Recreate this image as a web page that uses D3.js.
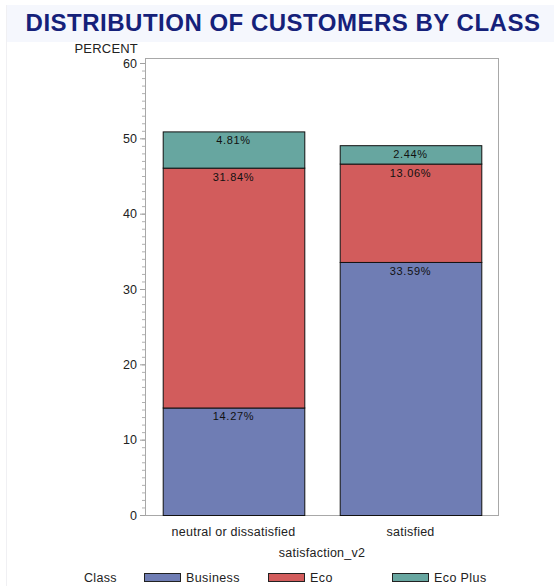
<!DOCTYPE html>
<html>
<head>
<meta charset="utf-8">
<script src="https://cdn.jsdelivr.net/npm/d3@7"></script>
<style>
  body { margin: 0; background: #fff; }
  svg { display: block; font-family: "Liberation Sans", Arial, sans-serif; }
</style>
</head>
<body>
<svg></svg>
<script>
// chart data
var groups = ["neutral or dissatisfied", "satisfied"];
var classes = ["Business", "Eco", "Eco Plus"];
var business = [14.27, 33.59];
var eco = [31.84, 13.06];
var ecoPlus = [4.81, 2.44];
var yTicks = [0, 10, 20, 30, 40, 50, 60];
var colors = ["#6f7db4", "#d25c5c", "#67a6a0"];

var screen = { width: 554, height: 586 };
var margins = { top: 58, bottom: 71, left: 145, right: 55 };
var boxWidth = screen.width - margins.left - margins.right;
var boxHeight = screen.height - margins.top - margins.bottom;

var svg = d3.select("svg")
  .attr("width", screen.width)
  .attr("height", screen.height);

// header band + faint page edge
svg.append("rect")
  .attr("x", 6).attr("y", 5)
  .attr("width", screen.width - 6).attr("height", 37)
  .attr("fill", "#f5f7fd");
svg.append("line")
  .attr("x1", 6.5).attr("x2", 6.5).attr("y1", 5).attr("y2", screen.height)
  .attr("stroke", "#f0f0f3");

svg.append("text")
  .attr("x", 283).attr("y", 31)
  .attr("text-anchor", "middle")
  .attr("font-size", 24)
  .attr("letter-spacing", 0.5)
  .attr("font-weight", "bold")
  .attr("fill", "#15217a")
  .text("DISTRIBUTION OF CUSTOMERS BY CLASS");

var table = groups.map(function(g, i) {
  return { group: g, "Business": business[i], "Eco": eco[i], "Eco Plus": ecoPlus[i] };
});
var stacked = d3.stack().keys(classes)(table);

var xScale = d3.scaleBand()
  .domain(groups)
  .range([0, boxWidth])
  .paddingInner(0.2)
  .paddingOuter(0.1);

var yScale = d3.scaleLinear()
  .domain([0, 60])
  .range([boxHeight - 0, 5]);

var plot = svg.append("g")
  .attr("transform", "translate(" + margins.left + "," + margins.top + ")");

// frame
plot.append("rect")
  .attr("x", 0.5).attr("y", 0.5)
  .attr("width", boxWidth - 1).attr("height", boxHeight)
  .attr("fill", "none")
  .attr("stroke", "#a8a8a8");

// minor ticks
plot.append("g")
  .attr("class", "minor")
  .call(d3.axisLeft(yScale).ticks(60).tickSize(3).tickFormat(""))
  .call(function(g) {
    g.select(".domain").remove();
    g.selectAll("line").attr("stroke", "#b0b0b0");
  });

// major ticks
plot.append("g")
  .call(d3.axisLeft(yScale).tickValues(yTicks).tickSize(5).tickPadding(3))
  .call(function(g) {
    g.select(".domain").attr("stroke", "#a8a8a8");
    g.selectAll("line").attr("stroke", "#a0a0a0");
    g.selectAll("text").attr("font-size", 12.5).attr("fill", "#222")
      .attr("font-family", "Liberation Sans, Arial, sans-serif");
  });

svg.append("text")
  .attr("x", 138).attr("y", 53)
  .attr("text-anchor", "end")
  .attr("font-size", 13)
  .attr("letter-spacing", 0.2)
  .attr("fill", "#222")
  .text("PERCENT");

// bars
var layers = plot.selectAll(".layer")
  .data(stacked)
  .enter()
  .append("g")
  .attr("fill", function(d, i) { return colors[i]; });

layers.selectAll("rect")
  .data(function(d) { return d; })
  .enter()
  .append("rect")
  .attr("x", function(d) { return xScale(d.data.group) + 0.5; })
  .attr("y", function(d) { return yScale(d[1]) + 0.5; })
  .attr("width", xScale.bandwidth())
  .attr("height", function(d) { return yScale(d[0]) - yScale(d[1]); })
  .attr("stroke", "#111")
  .attr("stroke-width", 1);

layers.selectAll("text")
  .data(function(d) { return d; })
  .enter()
  .append("text")
  .attr("x", function(d) { return xScale(d.data.group) + xScale.bandwidth() / 2; })
  .attr("y", function(d) { return yScale(d[1]) + 13; })
  .attr("text-anchor", "middle")
  .attr("font-size", 11)
  .attr("letter-spacing", 0.7)
  .attr("fill", "#111")
  .text(function(d) { return (d[1] - d[0]).toFixed(2) + "%"; });

// x labels
plot.append("g")
  .attr("transform", "translate(0," + boxHeight + ")")
  .call(d3.axisBottom(xScale).tickSize(0).tickPadding(12))
  .call(function(g) {
    g.select(".domain").remove();
    g.selectAll("text").attr("font-size", 12.5).attr("letter-spacing", 0.25)
      .attr("fill", "#222")
      .attr("font-family", "Liberation Sans, Arial, sans-serif");
  });

svg.append("text")
  .attr("x", 322).attr("y", 557)
  .attr("text-anchor", "middle")
  .attr("font-size", 12.5)
  .attr("letter-spacing", 0.25)
  .attr("fill", "#222")
  .text("satisfaction_v2");

// legend
svg.append("text")
  .attr("x", 84).attr("y", 582)
  .attr("font-size", 12.5)
  .attr("letter-spacing", 0.3)
  .attr("fill", "#222")
  .text("Class");

var legendX = [144, 268, 392];
var legend = svg.selectAll(".leg")
  .data(classes)
  .enter()
  .append("g")
  .attr("transform", function(d, i) { return "translate(" + legendX[i] + ",573)"; });

legend.append("rect")
  .attr("x", 0.5).attr("y", 0.5)
  .attr("width", 36).attr("height", 8)
  .attr("fill", function(d, i) { return colors[i]; })
  .attr("stroke", "#222");

legend.append("text")
  .attr("x", 42).attr("y", 9)
  .attr("font-size", 12.5)
  .attr("letter-spacing", 0.4)
  .attr("fill", "#222")
  .text(function(d) { return d; });
</script>
</body>
</html>
